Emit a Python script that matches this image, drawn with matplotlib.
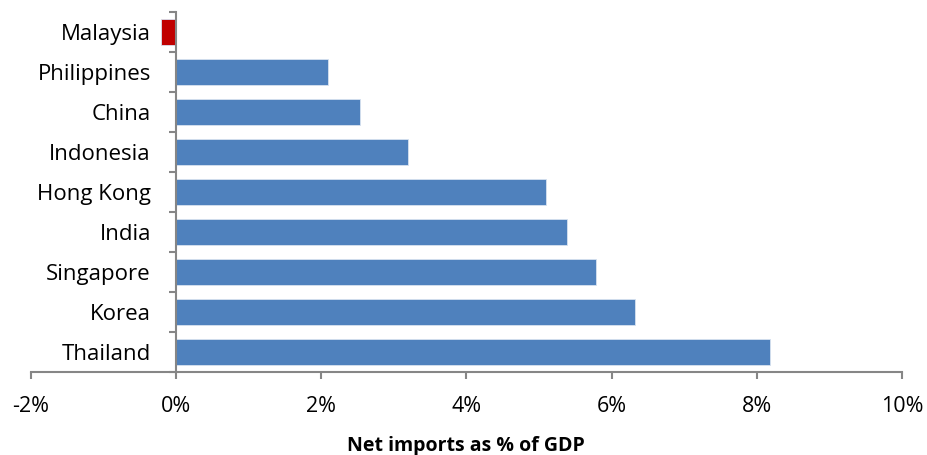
import matplotlib
matplotlib.use("Agg")
import matplotlib.pyplot as plt
from matplotlib.ticker import FuncFormatter

countries = ["Thailand", "Korea", "Singapore", "India", "Hong Kong",
             "Indonesia", "China", "Philippines", "Malaysia"]
values = [8.18, 6.32, 5.78, 5.39, 5.10, 3.19, 2.54, 2.10, -0.21]
xticks = [-2, 0, 2, 4, 6, 8, 10]

plt.rcParams['font.family'] = ['Open Sans', 'DejaVu Sans']

fig = plt.figure(figsize=(9.28, 4.55), dpi=100)
ax = fig.add_axes([0.0331, 0.1824, 0.972 - 0.0331, 0.9736 - 0.1824])

colors = ["#C00000" if v < 0 else "#4F81BD" for v in values]
pos = list(range(len(countries)))
ax.barh(pos, values, height=0.67, color=colors, edgecolor="#D8E2F0", linewidth=0.6)

ax.set_xlim(-2, 10)
ax.set_ylim(-0.5, len(countries) - 0.5)
ax.set_xticks(xticks)
ax.xaxis.set_major_formatter(FuncFormatter(lambda v, p: f"{v:.0f}%"))
ax.set_yticks([p for p in pos])
ax.set_yticklabels(countries)
ax.set_yticks([p - 0.5 for p in pos] + [len(countries) - 0.5], minor=True)

for s in ["top", "right"]:
    ax.spines[s].set_visible(False)
ax.spines["left"].set_position(("data", 0))
for s in ["left", "bottom"]:
    ax.spines[s].set_color("#868686")
    ax.spines[s].set_linewidth(1.5)

ax.tick_params(axis="y", which="major", length=0, pad=18, labelsize=16, colors="black")
ax.tick_params(axis="y", which="minor", length=5, width=1.5, color="#868686", direction="out")
ax.tick_params(axis="x", which="major", length=5, width=1.5, color="#868686", direction="out",
               pad=12, labelsize=15.5, labelcolor="black")

ax.set_xlabel("Net imports as % of GDP", fontsize=14, fontweight="bold", labelpad=14)

fig.savefig("out.png", dpi=100)
